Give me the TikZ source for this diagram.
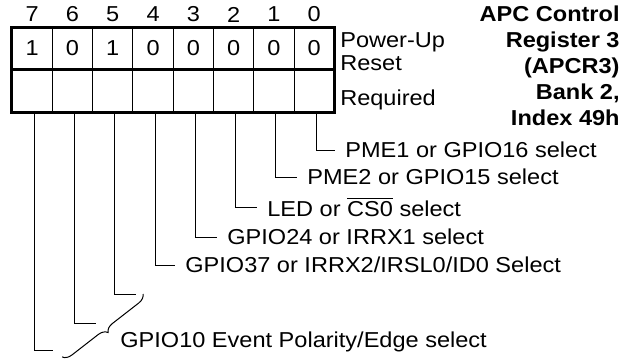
\documentclass[tikz,border=0pt]{standalone}
\usepackage{fontspec}
\setmainfont{Liberation Sans}[FakeStretch=1.09]
\usepackage{tikz}
\usetikzlibrary{positioning, calc, decorations.pathreplacing}
\tikzset{
  bitcell/.style={rectangle, draw=black, line width=0.5pt,
    minimum width=20.15pt, inner sep=0pt},
  toprow/.style={bitcell, minimum height=20.5pt},
  botrow/.style={bitcell, minimum height=21.5pt},
  desc/.style={anchor=west, inner xsep=5pt, inner ysep=0pt},
  wire/.style={line width=0.5pt, color=black},
  regframe/.style={line width=1.5pt}
}

\begin{document}
\begin{tikzpicture}[x=0.5pt, y=-0.5pt, font=\fontsize{10.8}{12}\selectfont]
  \useasboundingbox (0,0) rectangle (633,360);

  % Register cells
  \foreach \v [count=\k from 0] in {1,0,1,0,0,0,0,0} {
    \pgfmathtruncatemacro{\b}{7-\k}
    \node[toprow] (v\b) at ({12+40.3*(\k+0.5)}, 48.5) {\v};
    \node[botrow] (q\b) at ({12+40.3*(\k+0.5)}, 90.5) {};
    \node (n\b) at ([yshift=6.5pt]v\b.north) {\b};
  }
  \draw[regframe] (v7.north west) rectangle (q0.south east);
  \draw[regframe] (v7.south west) -- (v0.south east);

  % Side labels
  \node[anchor=west, align=left, inner sep=0pt, font=\fontsize{10.8}{11.5}\selectfont]
    (pur) at ([xshift=2.5pt, yshift=-1.5pt]v0.east) {Power-Up\\Reset};
  \node[anchor=west, inner sep=0pt] (req) at ([xshift=2.5pt, yshift=-4.75pt]q0.east) {Required};

  % Title
  \node[anchor=north east, align=right, inner sep=0pt,
    font=\bfseries\fontsize{10.8}{13}\selectfont] (title) at (620,5)
    {APC Control\\Register 3\\(APCR3)\\Bank 2,\\Index 49h};

  % Bit descriptions
  \node[desc] (l0) at (335,150) {PME1 or GPIO16 select};
  \node[desc] (l1) at (297,177) {PME2 or GPIO15 select};
  \node[desc] (l2) at (257,207) {LED or $\overline{\mbox{CS0}}$ select};
  \node[desc] (l3) at (217,237) {GPIO24 or IRRX1 select};
  \node[desc] (l4) at (175,265) {GPIO37 or IRRX2/IRSL0/ID0 Select};
  \node[desc] (l5) at (110,342) {GPIO10 Event Polarity/Edge select};

  \coordinate (e5) at (136,294);
  \coordinate (e6) at (96,323);
  \coordinate (e7) at (53,350);
  \coordinate (bt) at (143,294);
  \coordinate (bb) at (62,357);

  % Connectors
  \foreach \b in {0,...,4}
    \draw[wire] ([xshift=1pt]q\b.south) |- (l\b.west);
  \foreach \b in {5,6,7}
    \draw[wire] ([xshift=1pt]q\b.south) |- (e\b);
  \draw[wire, decorate, decoration={brace, amplitude=4.5pt}] (bt) -- (bb);
\end{tikzpicture}
\end{document}
